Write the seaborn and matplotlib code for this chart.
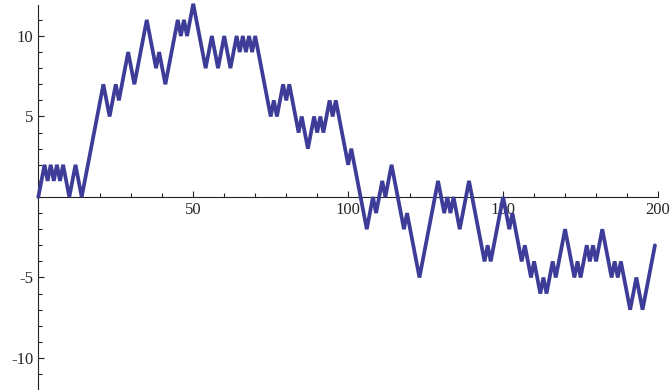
import numpy as np
import pandas as pd
import seaborn as sb
import matplotlib.pyplot as plt
from matplotlib.ticker import FixedLocator

# Posiciones de un paseo aleatorio, un valor por paso
posicion = [
    0, 1, 2, 1, 2, 1, 2, 1, 2, 1,
    0, 1, 2, 1, 0, 1, 2, 3, 4, 5,
    6, 7, 6, 5, 6, 7, 6, 7, 8, 9,
    8, 7, 8, 9, 10, 11, 10, 9, 8, 9,
    8, 7, 8, 9, 10, 11, 10, 11, 10, 11,
    12, 11, 10, 9, 8, 9, 10, 9, 8, 9,
    10, 9, 8, 9, 10, 9, 10, 9, 10, 9,
    10, 9, 8, 7, 6, 5, 6, 5, 6, 7,
    6, 7, 6, 5, 4, 5, 4, 3, 4, 5,
    4, 5, 4, 5, 6, 5, 6, 5, 4, 3,
    2, 3, 2, 1, 0, -1, -2, -1, 0, -1,
    0, 1, 0, 1, 2, 1, 0, -1, -2, -1,
    -2, -3, -4, -5, -4, -3, -2, -1, 0, 1,
    0, -1, 0, -1, 0, -1, -2, -1, 0, 1,
    0, -1, -2, -3, -4, -3, -4, -3, -2, -1,
    0, -1, -2, -1, -2, -3, -4, -3, -4, -5,
    -4, -5, -6, -5, -6, -5, -4, -5, -4, -3,
    -2, -3, -4, -5, -4, -5, -4, -3, -4, -3,
    -4, -3, -2, -3, -4, -5, -4, -5, -4, -5,
    -6, -7, -6, -5, -6, -7, -6, -5, -4, -3,
]
pasos = list(range(len(posicion)))

ticks_x = [50, 100, 150, 200]
ticks_y = [-10, -5, 5, 10]

datos = pd.DataFrame({"paso": pasos, "posicion": posicion})

plt.rcParams["axes.unicode_minus"] = False
sb.set_style("white")
plt.rcParams["font.family"] = ["Liberation Serif", "DejaVu Serif"]

fig = plt.figure(figsize=(6.71, 3.90), dpi=100)
ax = fig.add_axes([0.0571, 0.0036, 0.9236, 0.9826])

sb.lineplot(data=datos, x="paso", y="posicion", ax=ax, color="#3d3d99",
            linewidth=2.7, solid_joinstyle="bevel", clip_on=False)

ax.set_xlim(0, 200)
ax.set_ylim(-11.9, 11.9)
ax.set_xlabel("")
ax.set_ylabel("")

# Ejes cruzando en el origen, estilo Mathematica
for lado in ["top", "right"]:
    ax.spines[lado].set_visible(False)
for lado in ["left", "bottom"]:
    ax.spines[lado].set_position(("data", 0))
    ax.spines[lado].set_color("#222222")
    ax.spines[lado].set_linewidth(0.8)
    ax.spines[lado].set_zorder(1)

ax.xaxis.set_major_locator(FixedLocator(ticks_x))
ax.xaxis.set_minor_locator(FixedLocator([v for v in range(10, 200, 10) if v % 50]))
ax.yaxis.set_major_locator(FixedLocator(ticks_y))
ax.yaxis.set_minor_locator(FixedLocator([v for v in range(-11, 12) if v % 5]))
ax.set_xticklabels([str(v) for v in ticks_x])
ax.set_yticklabels([str(v) for v in ticks_y])

ax.tick_params(which="major", direction="in", length=4.5, width=0.8,
               color="#222222", labelsize=12, pad=3.5)
ax.tick_params(which="minor", direction="in", length=2.6, width=0.8,
               color="#222222")
ax.tick_params(axis="both", which="both", bottom=True, left=True)

fig.savefig("out.png", dpi=100)
plt.close()
